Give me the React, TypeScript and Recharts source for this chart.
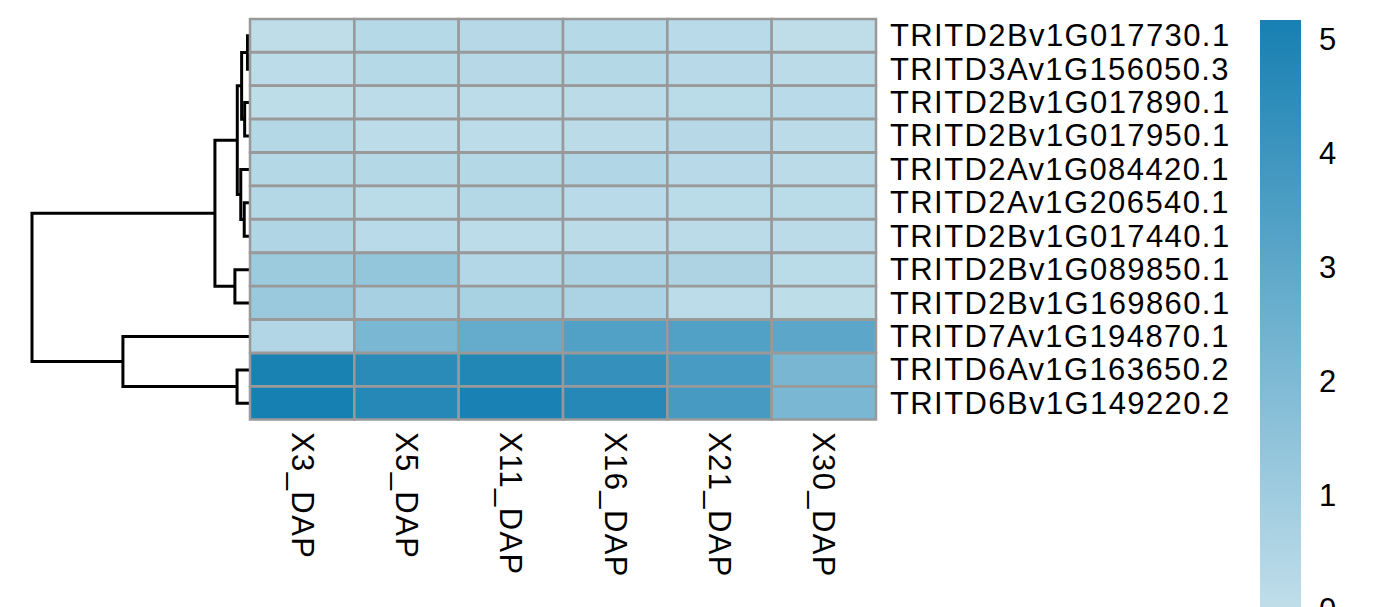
import React from "react";
import { BarChart, Bar, Cell, XAxis, YAxis, ScatterChart, Scatter } from "recharts";

// row labels, top to bottom (dendrogram leaf order)
const genes = [
  "TRITD2Bv1G017730.1",
  "TRITD3Av1G156050.3",
  "TRITD2Bv1G017890.1",
  "TRITD2Bv1G017950.1",
  "TRITD2Av1G084420.1",
  "TRITD2Av1G206540.1",
  "TRITD2Bv1G017440.1",
  "TRITD2Bv1G089850.1",
  "TRITD2Bv1G169860.1",
  "TRITD7Av1G194870.1",
  "TRITD6Av1G163650.2",
  "TRITD6Bv1G149220.2",
];

const samples = ["X3_DAP", "X5_DAP", "X11_DAP", "X16_DAP", "X21_DAP", "X30_DAP"];

// expression per sample, same order as genes
const x3Dap = [0.05, 0.1, 0.08, 0.33, 0.35, 0.33, 0.5, 1.07, 1.15, 0.43, 5.07, 5.17];
const x5Dap = [0.3, 0.3, 0.12, 0.12, 0.35, 0.17, 0.2, 1.34, 0.75, 2.14, 4.6, 4.75];
const x11Dap = [0.28, 0.28, 0.12, 0.12, 0.35, 0.35, 0.1, 0.41, 0.72, 2.8, 4.8, 5.1];
const x16Dap = [0.3, 0.33, 0.15, 0.15, 0.45, 0.2, 0.15, 0.6, 0.63, 3.4, 4.25, 4.75];
const x21Dap = [0.2, 0.25, 0.18, 0.27, 0.25, 0.18, 0.15, 0.55, 0.1, 3.4, 3.67, 3.7];
const x30Dap = [0.07, 0.15, 0.2, 0.15, 0.15, 0.18, 0.15, 0.18, 0.08, 3.06, 2.2, 2.15];
const sampleValues = [x3Dap, x5Dap, x11Dap, x16Dap, x21Dap, x30Dap];

// hclust-style merges: negative = leaf (1-based), positive = earlier merge
const mergeA = [-1, -3, 1, -6, -5, 3, -8, 6, -11, -10, 8];
const mergeB = [-2, -4, 2, -7, 4, 5, -9, 7, -12, 9, 10];
const mergeHeight = [0.07, 0.2, 0.34, 0.22, 0.38, 0.54, 0.65, 1.57, 0.55, 5.81, 10];

const legendTicks = [0, 1, 2, 3, 4, 5];
const legendMax = 5.17;

const LOW = [192, 222, 234];
const HIGH = [23, 128, 178];
const FONT = "'Liberation Sans', Arial, sans-serif";

function rampColor(v: number) {
  const t = Math.max(0, Math.min(1, v / legendMax));
  const c = LOW.map((lo, i) => Math.round(lo + (HIGH[i] - lo) * t));
  return `rgb(${c[0]},${c[1]},${c[2]})`;
}

// one row object per gene for the stacked horizontal bars
const heatRows = genes.map((g) => {
  const row: Record<string, number | string> = { gene: g };
  samples.forEach((_, c) => (row["c" + c] = 1));
  return row;
});

// dendrogram link paths from the merge table
function buildLinks() {
  const nodes: { h: number; y: number }[] = [];
  const pos = (k: number) => (k < 0 ? { h: 0, y: -k - 0.5 } : nodes[k - 1]);
  const links: { h: number; y: number }[][] = [];
  mergeA.forEach((a, i) => {
    const pa = pos(a);
    const pb = pos(mergeB[i]);
    const h = mergeHeight[i];
    links.push([
      { h: pa.h, y: pa.y },
      { h, y: pa.y },
      { h, y: pb.y },
      { h: pb.h, y: pb.y },
    ]);
    nodes.push({ h, y: (pa.y + pb.y) / 2 });
  });
  return links;
}
const links = buildLinks();

function GeneTick(props: any) {
  const { x, y, payload } = props;
  return (
    <text x={x + 6} y={y} dominantBaseline="central" fontSize={31} letterSpacing={1.4} fontFamily={FONT} fill="#000">
      {payload.value}
    </text>
  );
}

function SampleTick(props: any) {
  const { x, y, payload } = props;
  const label = samples[Math.floor(payload.value)];
  return (
    <text
      x={x}
      y={y + 4}
      transform={`rotate(90, ${x}, ${y + 4})`}
      dominantBaseline="central"
      fontSize={31}
      letterSpacing={1.4}
      fontFamily={FONT}
      fill="#000"
    >
      {label}
    </text>
  );
}

function LegendTick(props: any) {
  const { x, y, payload } = props;
  return (
    <text x={x + 10} y={y} dominantBaseline="central" fontSize={31} fontFamily={FONT} fill="#000">
      {payload.value}
    </text>
  );
}

export default function App() {
  return (
    <div style={{ position: "fixed", left: 0, top: 0, width: 1378, height: 607, overflow: "hidden", background: "#fff" }}>
      <div style={{ position: "absolute", left: 0, top: 0 }}>
        <ScatterChart width={252} height={440} margin={{ top: 19, right: 3, bottom: 20, left: 32 }}>
          <XAxis type="number" dataKey="h" domain={[0, 10]} reversed hide />
          <YAxis type="number" dataKey="y" domain={[0, 12]} reversed hide />
          {links.map((seg, i) => (
            <Scatter
              key={i}
              data={seg}
              line={{ stroke: "#000", strokeWidth: 3 }}
              stroke="#000"
              strokeWidth={3}
              lineType="joint"
              shape={() => <g />}
              isAnimationActive={false}
            />
          ))}
        </ScatterChart>
      </div>

      <div style={{ position: "absolute", left: 0, top: 0 }}>
        <BarChart
          width={1240}
          height={600}
          data={heatRows}
          layout="vertical"
          barCategoryGap={0}
          barGap={0}
          margin={{ top: 19, right: 0, bottom: 10, left: 250 }}
        >
          <XAxis
            type="number"
            domain={[0, 6]}
            ticks={[0.5, 1.5, 2.5, 3.5, 4.5, 5.5]}
            height={170}
            axisLine={false}
            tickLine={false}
            tick={<SampleTick />}
            interval={0}
          />
          <YAxis
            type="category"
            dataKey="gene"
            orientation="right"
            width={364}
            axisLine={false}
            tickLine={false}
            tick={<GeneTick />}
            interval={0}
          />
          {samples.map((s, c) => (
            <Bar key={s} dataKey={"c" + c} stackId="heat" stroke="#999" strokeWidth={2.5} isAnimationActive={false}>
              {genes.map((g, r) => (
                <Cell key={g} fill={rampColor(sampleValues[c][r])} />
              ))}
            </Bar>
          ))}
        </BarChart>
      </div>

      <div style={{ position: "absolute", left: 1260, top: 0 }}>
        <BarChart
          width={118}
          height={620}
          data={[{ name: "legend", top: legendMax }]}
          barCategoryGap={0}
          margin={{ top: 20, right: 0, bottom: 11, left: 0 }}
        >
          <defs>
            <linearGradient id="legendGrad" x1="0" y1="1" x2="0" y2="0">
              <stop offset="0%" stopColor={rampColor(0)} />
              <stop offset="100%" stopColor={rampColor(legendMax)} />
            </linearGradient>
          </defs>
          <XAxis dataKey="name" hide />
          <YAxis
            type="number"
            domain={[0, legendMax]}
            ticks={legendTicks}
            orientation="right"
            width={77}
            axisLine={false}
            tickLine={false}
            tick={<LegendTick />}
          />
          <Bar dataKey="top" fill="url(#legendGrad)" isAnimationActive={false} />
        </BarChart>
      </div>
    </div>
  );
}
